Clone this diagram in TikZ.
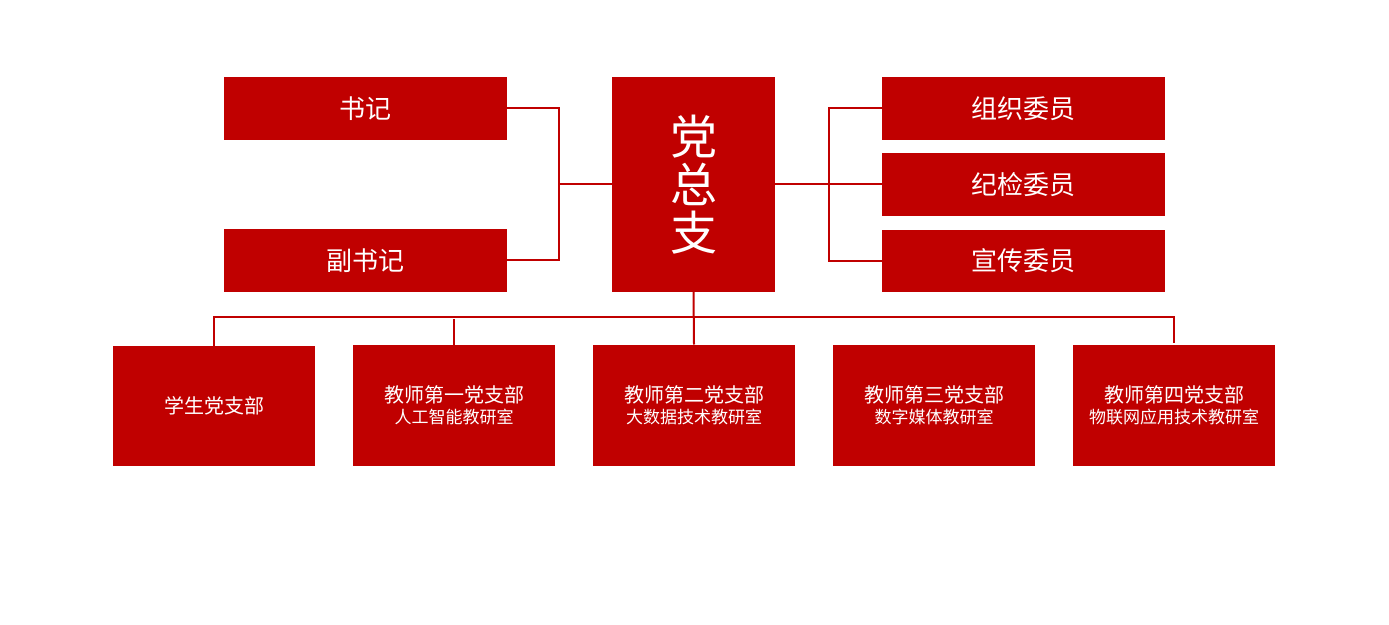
\documentclass[tikz,border=0pt]{standalone}
\usepackage{fontspec}
\newfontfamily\cjk{Noto Sans CJK SC}
\definecolor{dred}{HTML}{C00000}
\tikzset{
  box/.style={fill=dred, draw=none, inner sep=0pt, text=white, align=center, font=\cjk},
  conn/.style={draw=dred, line width=2bp},
  bigtxt/.style={font=\cjk\fontsize{26bp}{30bp}\selectfont},
  midtxt/.style={font=\cjk\fontsize{20bp}{21bp}\selectfont},
  twotxt/.style={font=\cjk\fontsize{20bp}{21.5bp}\selectfont},
}
\begin{document}
\begin{tikzpicture}[x=1bp,y=-1bp]
\useasboundingbox (0,0) rectangle (1389,625);
% top-left
\node[box,bigtxt,minimum width=283bp,minimum height=63bp] (sj) at (365.5,108.3) {书记};
\node[box,bigtxt,minimum width=283bp,minimum height=63bp] (fsj) at (365.5,260.3) {副书记};
% centre
\node[box,minimum width=163bp,minimum height=214.7bp,font=\cjk\fontsize{47bp}{48bp}\selectfont] (dzz) at (693.5,184.3) {党\\总\\支};
% right
\node[box,bigtxt,minimum width=283bp,minimum height=62.7bp] (zz) at (1023.5,108.3) {组织委员};
\node[box,bigtxt,minimum width=283bp,minimum height=62.7bp] (jj) at (1023.5,184.3) {纪检委员};
\node[box,bigtxt,minimum width=283bp,minimum height=61.7bp] (xc) at (1023.5,260.8) {宣传委员};
% bottom
\node[box,midtxt,minimum width=202bp,minimum height=120bp] (b1) at (214,405.7) {学生党支部};
\node[box,twotxt,minimum width=202bp,minimum height=121bp] (b2) at (454,405.2) {教师第一党支部\\{\fontsize{17bp}{21.5bp}\selectfont 人工智能教研室}};
\node[box,twotxt,minimum width=202bp,minimum height=121bp] (b3) at (694,405.2) {教师第二党支部\\{\fontsize{17bp}{21.5bp}\selectfont 大数据技术教研室}};
\node[box,twotxt,minimum width=202bp,minimum height=121bp] (b4) at (934,405.2) {教师第三党支部\\{\fontsize{17bp}{21.5bp}\selectfont 数字媒体教研室}};
\node[box,twotxt,minimum width=202bp,minimum height=121bp] (b5) at (1174,405.2) {教师第四党支部\\{\fontsize{17bp}{21.5bp}\selectfont 物联网应用技术教研室}};
% connectors
\coordinate (lb) at (559,184.3);
\coordinate (rb) at (829,184.3);
\coordinate (bh) at (694,316.7);
\draw[conn] (sj.east) -| (lb) |- (fsj.east);
\draw[conn] (lb) -- (dzz.west);
\draw[conn] (zz.west) -| (rb) |- (xc.west);
\draw[conn] (dzz.east) -- (jj.west);
\draw[conn] (dzz.south) -- (b3.north);
\draw[conn] (b1.north) |- (bh) -| ([yshift=2bp]b5.north);
\draw[conn] (b2.north) -- ++(0,-26);
\end{tikzpicture}
\end{document}
